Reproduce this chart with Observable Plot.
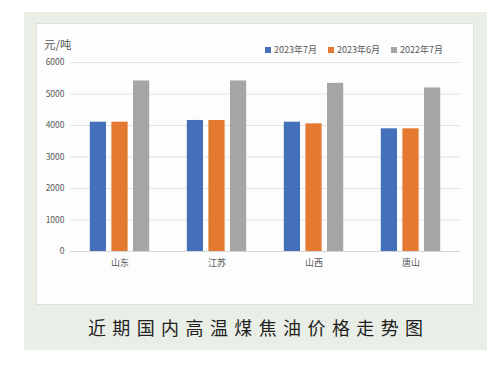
<!DOCTYPE html>
<html><head><meta charset="utf-8">
<script src="https://cdn.jsdelivr.net/npm/d3@7"></script>
<script src="https://cdn.jsdelivr.net/npm/@observablehq/plot@0.6"></script>
<style>
html,body{margin:0;padding:0;background:#fff;width:495px;height:365px;overflow:hidden;font-family:"Noto Sans CJK SC","Noto Sans",sans-serif;}
#outer{position:absolute;left:24px;top:12px;width:463px;height:338px;background:#e9eee7;}
#inner{position:absolute;left:36px;top:23px;width:436px;height:280px;background:#fdfdfd;border:1px solid #dedede;}
#chart{position:absolute;left:36px;top:23px;}
#unit{position:absolute;left:44px;top:36px;font-size:11.5px;color:#595959;}
#legend{position:absolute;left:265px;top:43px;font-size:9px;color:#595959;display:flex;gap:0;}
#legend .it{display:flex;align-items:center;margin-right:11px;}
#legend .sw{width:6px;height:6px;margin-right:3px;}
#caption{position:absolute;left:24px;width:463px;top:314px;text-align:center;font-size:18px;letter-spacing:6.4px;padding-left:6.4px;box-sizing:border-box;color:#231f20;}
</style></head>
<body>
<div id="outer"></div>
<div id="inner"></div>
<div id="chart"></div>
<div id="unit">元/吨</div>
<div id="legend"></div>
<div id="caption">近期国内高温煤焦油价格走势图</div>
<script>
const categories = ["山东", "江苏", "山西", "唐山"];
const seriesNames = ["2023年7月", "2023年6月", "2022年7月"];
const jul2023 = [4105, 4160, 4105, 3895];
const jun2023 = [4105, 4160, 4053, 3895];
const jul2022 = [5414, 5414, 5338, 5191];
const yTicks = [0, 1000, 2000, 3000, 4000, 5000, 6000];
const colors = ["#4370b9", "#e47a31", "#a5a5a5"];

const seriesValues = [jul2023, jun2023, jul2022];
const rows = seriesNames.map((s, si) => categories.map((c, ci) => ({category: c, series: s, value: seriesValues[si][ci]})));

const band = 97.5, barW = 16.7, step = 21.6;
const base = (band - barW) / 2;
const barMarks = rows.map((data, si) => {
  const off = (si - 1) * step;
  return Plot.barY(data, {x: "category", y: "value", fill: colors[si], insetLeft: base + off, insetRight: base - off});
});

const chart = Plot.plot({
  width: 438, height: 282,
  marginLeft: 34, marginRight: 14, marginTop: 39, marginBottom: 54,
  style: {fontFamily: '"Noto Sans CJK SC","Noto Sans",sans-serif', background: "transparent", color: "#595959"},
  x: {domain: categories, padding: 0, label: null, tickSize: 0, tickPadding: 8, fontSize: 9},
  y: {domain: [0, 6000], ticks: yTicks, tickFormat: d => String(d), label: null, tickSize: 0, tickPadding: 6},
  marks: [
    Plot.ruleY(yTicks.filter(d => d > 0), {stroke: "#e3e3e3", strokeWidth: 1}),
    ...barMarks,
    Plot.ruleY([0], {stroke: "#d6d6d6", strokeWidth: 1}),
    Plot.axisY({ticks: yTicks, tickFormat: d => String(d), tickSize: 0, tickPadding: 6, fontSize: 8.5, fill: "#595959", label: null}),
    Plot.axisX({tickSize: 0, tickPadding: 8, fontSize: 9, fill: "#595959", label: null})
  ]
});
document.getElementById("chart").appendChild(chart);

const lg = document.getElementById("legend");
seriesNames.forEach((s, i) => {
  const it = document.createElement("div"); it.className = "it";
  const sw = document.createElement("div"); sw.className = "sw"; sw.style.background = colors[i];
  const t = document.createElement("span"); t.textContent = s;
  it.appendChild(sw); it.appendChild(t); lg.appendChild(it);
});
</script>
</body></html>
